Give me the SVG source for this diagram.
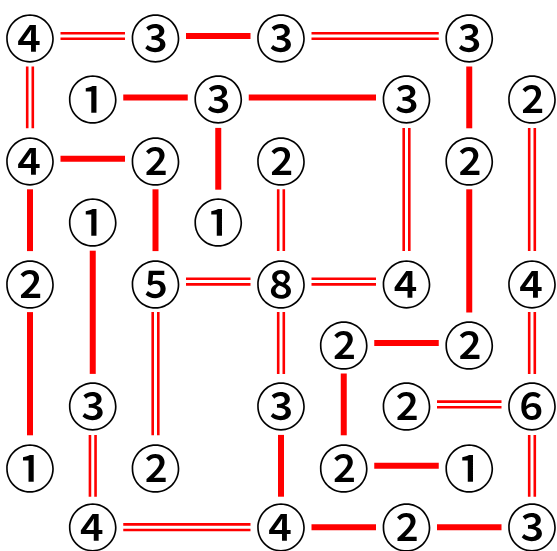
<svg xmlns="http://www.w3.org/2000/svg" width="557" height="551" viewBox="0 0 557 551">
<style>
.s{stroke:#ff0000;stroke-width:6;fill:none}
.d{stroke:#ff0000;stroke-width:2.6;fill:none}
text{font-family:"Noto Sans CJK JP","DejaVu Sans",sans-serif;font-weight:500;font-size:51px;text-anchor:middle;dominant-baseline:central;fill:#000}
</style>
<rect width="557" height="551" fill="#fff"/>
<g id="connectors">
<path class="d" d="M60.5 33.2H125M60.5 38.8H125"/>
<path class="s" d="M186 36H250.5"/>
<path class="d" d="M311.5 33.2H438.75M311.5 38.8H438.75"/>
<path class="d" d="M27.2 66.5V128.3M32.8 66.5V128.3"/>
<path class="s" d="M123.25 97.4H187.75"/>
<path class="s" d="M248.75 97.4H376"/>
<path class="s" d="M469.25 66.5V128.3"/>
<path class="s" d="M60.5 158.8H125"/>
<path class="s" d="M218.25 127.9V189.7"/>
<path class="d" d="M403.7 127.9V251.1M409.3 127.9V251.1"/>
<path class="d" d="M529.2 127.9V251.1M534.8 127.9V251.1"/>
<path class="s" d="M30 189.3V251.1"/>
<path class="s" d="M155.5 189.3V251.1"/>
<path class="d" d="M278.2 189.3V251.1M283.8 189.3V251.1"/>
<path class="s" d="M469.25 189.3V312.5"/>
<path class="s" d="M92.75 250.7V373.9"/>
<path class="d" d="M186 278.8H250.5M186 284.4H250.5"/>
<path class="d" d="M311.5 278.8H376M311.5 284.4H376"/>
<path class="s" d="M30 312.1V435.3"/>
<path class="d" d="M152.7 312.1V435.3M158.3 312.1V435.3"/>
<path class="d" d="M278.2 312.1V373.9M283.8 312.1V373.9"/>
<path class="d" d="M529.2 312.1V373.9M534.8 312.1V373.9"/>
<path class="s" d="M374.25 343H438.75"/>
<path class="s" d="M343.75 373.5V435.3"/>
<path class="d" d="M437 401.6H501.5M437 407.2H501.5"/>
<path class="d" d="M89.95 434.9V496.7M95.55 434.9V496.7"/>
<path class="s" d="M281 434.9V496.7"/>
<path class="d" d="M529.2 434.9V496.7M534.8 434.9V496.7"/>
<path class="s" d="M374.25 465.8H438.75"/>
<path class="d" d="M123.25 524.4H250.5M123.25 530H250.5"/>
<path class="s" d="M311.5 527.2H376"/>
<path class="s" d="M437 527.2H501.5"/>
</g>
<g id="n0_0"><text x="30" y="36">④</text></g>
<g id="n2_0"><text x="155.5" y="36">③</text></g>
<g id="n4_0"><text x="281" y="36">③</text></g>
<g id="n7_0"><text x="469.25" y="36">③</text></g>
<g id="n1_1"><text x="92.75" y="97.4">①</text></g>
<g id="n3_1"><text x="218.25" y="97.4">③</text></g>
<g id="n6_1"><text x="406.5" y="97.4">③</text></g>
<g id="n8_1"><text x="532" y="97.4">②</text></g>
<g id="n0_2"><text x="30" y="158.8">④</text></g>
<g id="n2_2"><text x="155.5" y="158.8">②</text></g>
<g id="n4_2"><text x="281" y="158.8">②</text></g>
<g id="n7_2"><text x="469.25" y="158.8">②</text></g>
<g id="n1_3"><text x="92.75" y="220.2">①</text></g>
<g id="n3_3"><text x="218.25" y="220.2">①</text></g>
<g id="n0_4"><text x="30" y="281.6">②</text></g>
<g id="n2_4"><text x="155.5" y="281.6">⑤</text></g>
<g id="n4_4"><text x="281" y="281.6">⑧</text></g>
<g id="n6_4"><text x="406.5" y="281.6">④</text></g>
<g id="n8_4"><text x="532" y="281.6">④</text></g>
<g id="n5_5"><text x="343.75" y="343">②</text></g>
<g id="n7_5"><text x="469.25" y="343">②</text></g>
<g id="n1_6"><text x="92.75" y="404.4">③</text></g>
<g id="n4_6"><text x="281" y="404.4">③</text></g>
<g id="n6_6"><text x="406.5" y="404.4">②</text></g>
<g id="n8_6"><text x="532" y="404.4">⑥</text></g>
<g id="n0_7"><text x="30" y="465.8">①</text></g>
<g id="n2_7"><text x="155.5" y="465.8">②</text></g>
<g id="n5_7"><text x="343.75" y="465.8">②</text></g>
<g id="n7_7"><text x="469.25" y="465.8">①</text></g>
<g id="n1_8"><text x="92.75" y="525">④</text></g>
<g id="n4_8"><text x="281" y="525">④</text></g>
<g id="n6_8"><text x="406.5" y="525">②</text></g>
<g id="n8_8"><text x="532" y="525">③</text></g>
</svg>
